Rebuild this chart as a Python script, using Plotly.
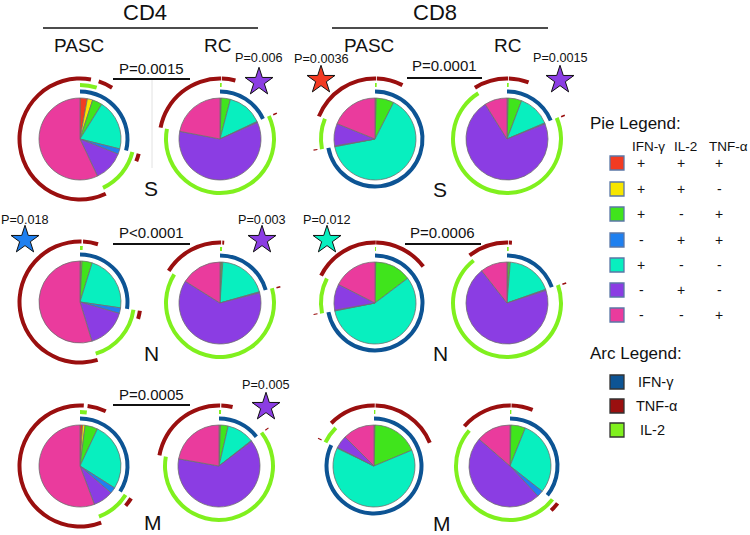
import plotly.graph_objects as go
import numpy as np

W, H = 750, 535

# ---- data -------------------------------------------------------------
# slice order in every pie (clockwise from 12 o'clock)
slice_names = ["IFN+IL2+TNF+", "IFN+IL2+TNF-", "IFN+IL2-TNF+", "IFN+IL2-TNF-",
               "IFN-IL2+TNF+", "IFN-IL2+TNF-", "IFN-IL2-TNF+"]
slice_colors = ["#f23b22", "#f7e600", "#40e41c", "#08efbf", "#1f80f0", "#8b3de3", "#ea3b9d"]
ifn_flag = [1, 1, 1, 1, 0, 0, 0]
il2_flag = [1, 1, 0, 0, 1, 1, 0]
tnf_flag = [1, 0, 1, 0, 1, 0, 1]

cd4_pasc_S = [2.9, 2.1, 3.9, 20.0, 2.1, 12.0, 57.0]
cd4_rc_S = [0.3, 0.2, 3.6, 13.9, 0.4, 59.6, 22.0]
cd8_pasc_S = [0.3, 0.2, 7.0, 64.5, 0.3, 8.8, 18.9]
cd8_rc_S = [0.3, 0.2, 5.3, 12.8, 0.4, 72.1, 8.9]
cd4_pasc_N = [0.4, 0.4, 4.0, 22.5, 2.2, 15.8, 54.7]
cd4_rc_N = [0.3, 0.3, 0.5, 19.5, 0.4, 62.9, 16.1]
cd8_pasc_N = [0.2, 0.1, 14.4, 57.2, 0.3, 10.3, 17.5]
cd8_rc_N = [0.3, 0.2, 0.8, 18.3, 0.4, 69.4, 10.6]
cd4_pasc_M = [1.0, 1.0, 5.0, 27.0, 2.4, 7.9, 55.7]
cd4_rc_M = [0.3, 0.3, 3.0, 10.8, 0.3, 63.1, 22.2]
cd8_pasc_M = [0.2, 0.2, 18.3, 63.5, 0.3, 5.0, 12.5]
cd8_rc_M = [0.2, 0.2, 5.7, 29.5, 2.5, 48.3, 13.6]

arc_names = ["IFN-γ", "TNF-α", "IL-2"]
arc_colors = ["#0d5494", "#9a0f0f", "#80f01e"]

# legend order (pie index) and labels
legend_order = [0, 1, 2, 4, 3, 5, 6]
legend_header = ["IFN-γ", "IL-2", "TNF-α"]

pies = [cd4_pasc_S, cd4_rc_S, cd8_pasc_S, cd8_rc_S,
        cd4_pasc_N, cd4_rc_N, cd8_pasc_N, cd8_rc_N,
        cd4_pasc_M, cd4_rc_M, cd8_pasc_M, cd8_rc_M]

# ---- layout geometry (pixels) -----------------------------------------
pie_cx = [80, 220, 375, 507, 80, 220, 375, 507, 80, 219, 374, 510]
pie_cy = [139, 139, 139, 139, 302, 303, 303, 303, 466, 466, 466, 466]
R_DOM = 64
R_PIE = 41
ARC_R = {"IFN-γ": 47.5, "IL-2": 54.0, "TNF-α": 60.5}
ARC_T = 4.0


def runs(vals, flags):
    total = float(sum(vals))
    ang = [v / total * 360 for v in vals]
    starts = np.concatenate([[0], np.cumsum(ang)[:-1]])
    segs = []
    for s, a, f, v in zip(starts, ang, flags, vals):
        if f and v > 0:
            if segs and abs(segs[-1][0] + segs[-1][1] - s) < 1e-6:
                segs[-1][1] += a
            else:
                segs.append([s, a])
    if len(segs) > 1 and abs(segs[0][0]) < 1e-6 and abs(segs[-1][0] + segs[-1][1] - 360) < 1e-6:
        last = segs.pop()
        segs[0] = [last[0], last[1] + segs[0][1]]
    return segs


fig = go.Figure()
layout_polars = {}

flag_map = {"IFN-γ": ifn_flag, "TNF-α": tnf_flag, "IL-2": il2_flag}

for i, vals in enumerate(pies):
    pname = "polar" if i == 0 else f"polar{i+1}"
    sub = pname
    cx, cy = pie_cx[i], pie_cy[i]
    layout_polars[pname] = dict(
        domain=dict(x=[(cx - R_DOM) / W, (cx + R_DOM) / W],
                    y=[1 - (cy + R_DOM) / H, 1 - (cy - R_DOM) / H]),
        bgcolor="rgba(0,0,0,0)",
        radialaxis=dict(visible=False, range=[0, R_DOM]),
        angularaxis=dict(visible=False, rotation=90, direction="clockwise"),
        barmode="overlay",
    )
    total = float(sum(vals))
    ang = [v / total * 360 for v in vals]
    starts = np.concatenate([[0], np.cumsum(ang)[:-1]])
    th, wd, cols = [], [], []
    for s, a, c, v in zip(starts, ang, slice_colors, vals):
        if v > 0:
            th.append(s + a / 2)
            wd.append(a)
            cols.append(c)
    fig.add_trace(go.Barpolar(
        r=[R_PIE] * len(th), theta=th, width=wd, base=0,
        marker=dict(color=cols, line=dict(color="#707070", width=0.8)),
        subplot=sub, showlegend=False, hoverinfo="skip"))
    for nm, col in zip(arc_names, arc_colors):
        segs = runs(vals, flag_map[nm])
        if not segs:
            continue
        fig.add_trace(go.Barpolar(
            r=[ARC_T] * len(segs),
            theta=[(s + a / 2) % 360 for s, a in segs],
            width=[a for s, a in segs],
            base=ARC_R[nm] - ARC_T / 2,
            marker=dict(color=col, line=dict(width=0)),
            subplot=sub, showlegend=False, hoverinfo="skip"))

# ---- stars -------------------------------------------------------------
star_text = ["P=0.006", "P=0.0036", "P=0.0015", "P=0.018", "P=0.003", "P=0.012", "P=0.005"]
star_x = [259, 321, 560, 25, 262, 327, 266]
star_y = [82, 80, 80, 240, 240, 240, 407]
star_ty = [58, 59, 58, 220, 220, 220, 385]
star_col = ["#8b3de3", "#f23b22", "#8b3de3", "#1f80f0", "#8b3de3", "#08efbf", "#8b3de3"]

fig.add_trace(go.Scatter(
    x=star_x, y=star_y, mode="markers",
    marker=dict(symbol="star", size=21, color=star_col, line=dict(color="#111", width=1)),
    showlegend=False, hoverinfo="skip", cliponaxis=False))

# ---- legend squares ------------------------------------------------------
leg_x = 617
leg_y = [163, 189, 214, 240, 265, 290, 315]
fig.add_trace(go.Scatter(
    x=[leg_x] * 7, y=leg_y, mode="markers",
    marker=dict(symbol="square", size=14, color=[slice_colors[k] for k in legend_order],
                line=dict(color="#5b77a6", width=1.3)),
    showlegend=False, hoverinfo="skip", cliponaxis=False))
arc_leg_y = [382, 406, 430]
fig.add_trace(go.Scatter(
    x=[leg_x] * 3, y=arc_leg_y, mode="markers",
    marker=dict(symbol="square", size=14, color=arc_colors, line=dict(color="#333", width=1.3)),
    showlegend=False, hoverinfo="skip", cliponaxis=False))

FONT = "Liberation Sans, Arial, sans-serif"
ann = []


def txt(t, x, y, size, xanchor="center"):
    ann.append(dict(text=t, x=x, y=y, xref="x", yref="y", showarrow=False,
                    font=dict(family=FONT, size=size, color="#111"),
                    xanchor=xanchor, yanchor="middle"))


# headers
for t, x, y, s in [("CD4", 145, 12, 22), ("CD8", 435, 12, 22),
                   ("PASC", 79, 45, 19), ("RC", 217, 45, 19),
                   ("PASC", 369, 45, 19), ("RC", 507, 45, 19)]:
    txt(t, x, y, s)

shapes = []


def hline(x0, x1, y, w=1.6, col="#111"):
    shapes.append(dict(type="line", xref="x", yref="y", x0=x0, x1=x1, y0=y, y1=y,
                       line=dict(color=col, width=w)))


hline(43, 258, 28)
hline(332, 548, 28)

# comparison p-values
for t, x, y, x0, x1, ly in [("P=0.0015", 151, 68, 113, 190, 79),
                            ("P=0.0001", 444, 65, 407, 482, 78),
                            ("P<0.0001", 151, 232, 113, 190, 244),
                            ("P=0.0006", 442, 232, 405, 481, 244),
                            ("P=0.0005", 151, 394, 113, 190, 405)]:
    txt(t, x, y, 15)
    hline(x0, x1, ly, 1.8)

shapes.append(dict(type="line", xref="x", yref="y", x0=152, x1=152, y0=80, y1=168,
                   line=dict(color="#e2e2e2", width=1)))

for t, x, y in zip(star_text, star_x, star_ty):
    txt(t, x, y, 12.7)

# row labels
for t, x, y in [("S", 151, 188), ("S", 440, 189), ("N", 151, 353), ("N", 440, 353),
                ("M", 153, 522), ("M", 442, 523)]:
    txt(t, x, y, 21)

# pie legend
txt("Pie Legend:", 588, 123, 17, "left")
for t, x in zip(legend_header, [648, 685, 728]):
    txt(t, x, 146, 13.5)
flag_cols = [ifn_flag, il2_flag, tnf_flag]
for row, k in enumerate(legend_order):
    for fl, x in zip(flag_cols, [641, 681, 719]):
        txt("+" if fl[k] else "-", x, leg_y[row], 14)

txt("Arc Legend:", 588, 353, 17, "left")
for t, y, x in zip(arc_names, arc_leg_y, [636, 634, 638]):
    txt(t, x, y, 14.5, "left")

fig.update_layout(
    width=W, height=H,
    margin=dict(l=0, r=0, t=0, b=0),
    paper_bgcolor="white", plot_bgcolor="rgba(0,0,0,0)",
    xaxis=dict(range=[0, W], visible=False, domain=[0, 1], fixedrange=True),
    yaxis=dict(range=[H, 0], visible=False, domain=[0, 1], fixedrange=True),
    annotations=ann, shapes=shapes, showlegend=False,
    **layout_polars,
)

fig.write_html("out.html", config={"displayModeBar": False},
               post_script="document.body.style.margin='0px';document.body.style.padding='0px';")
